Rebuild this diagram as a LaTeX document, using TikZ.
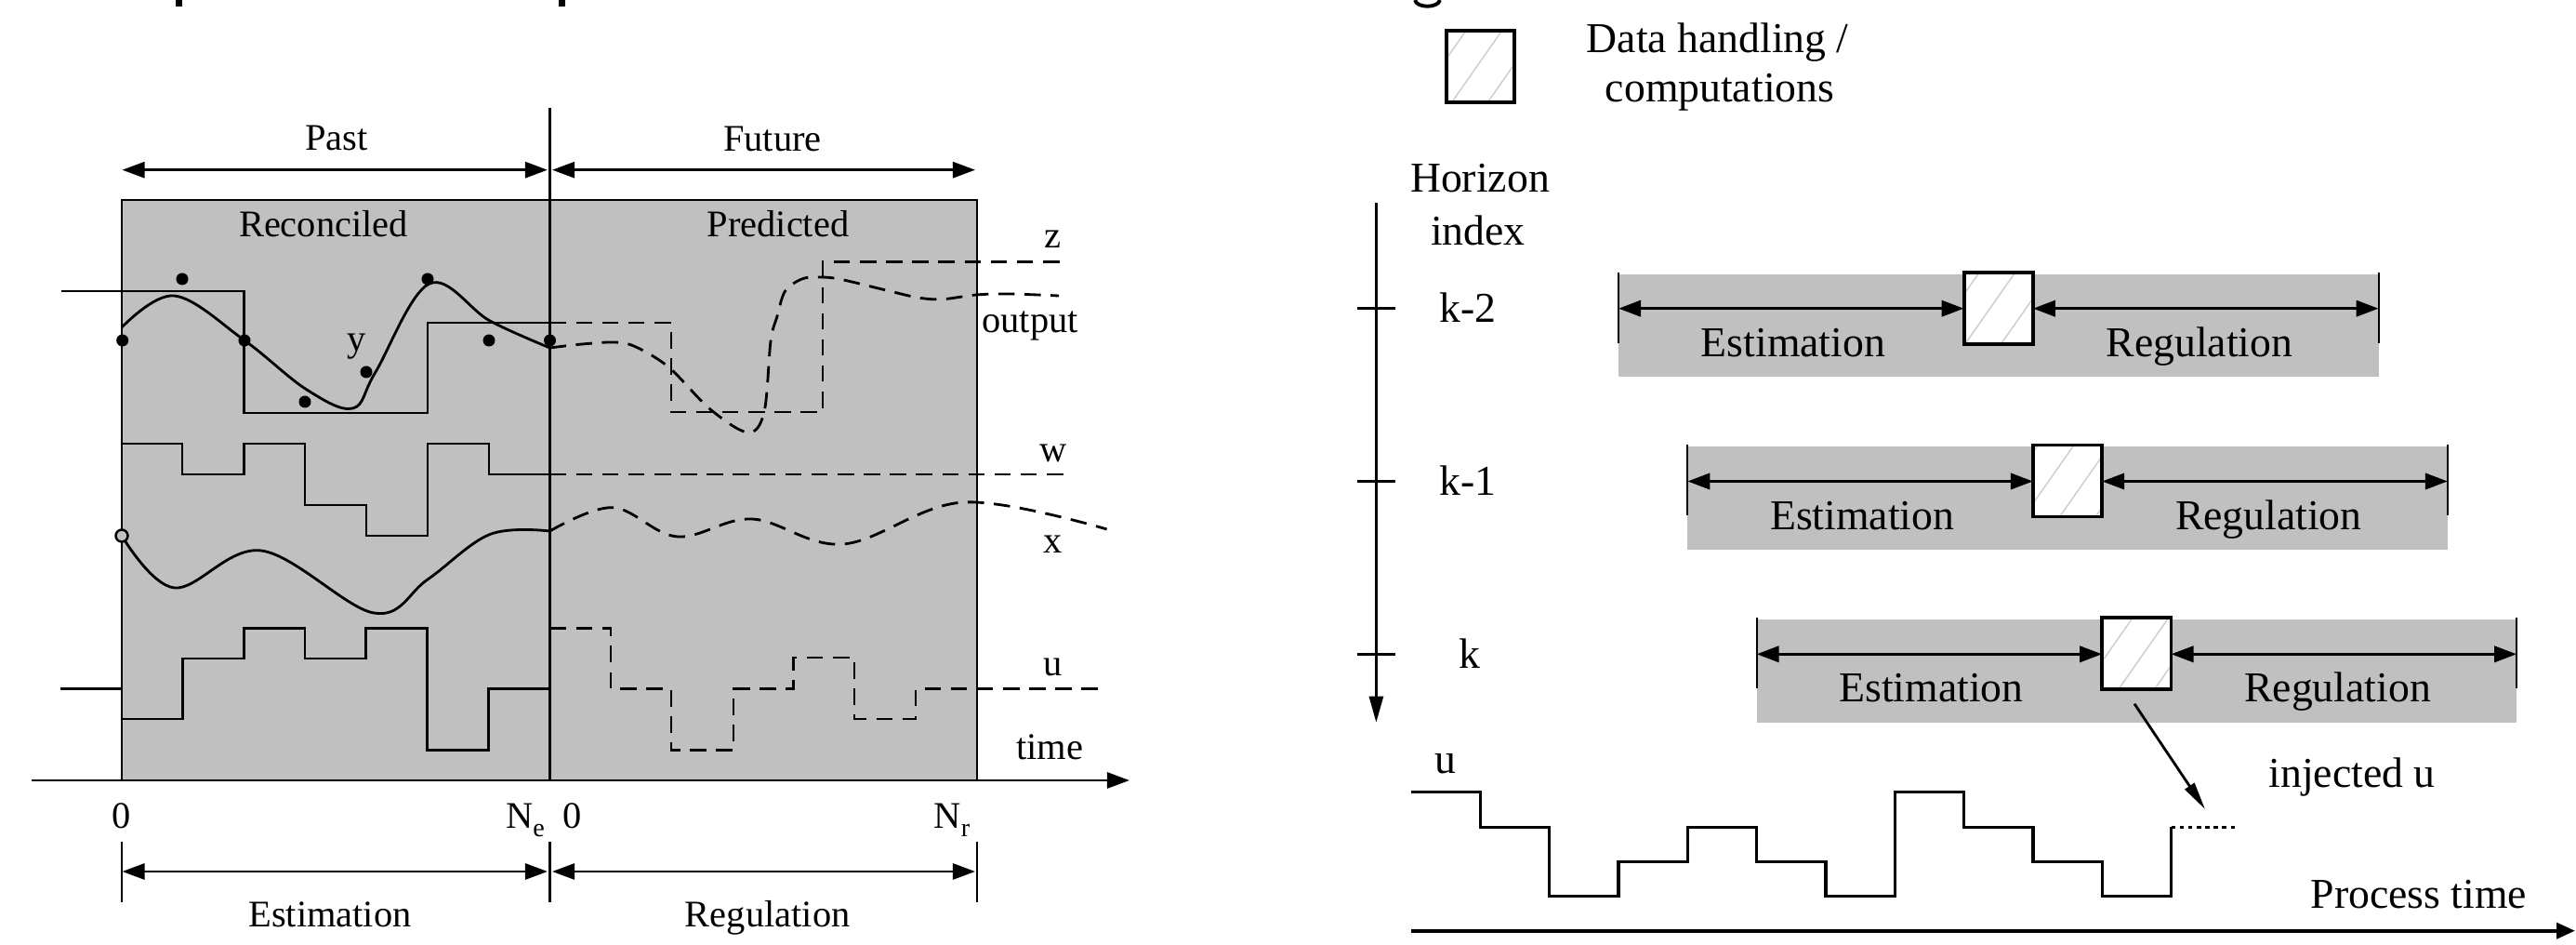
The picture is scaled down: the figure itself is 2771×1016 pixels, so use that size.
\documentclass[tikz,border=0pt]{standalone}
\usepackage{fontspec}
\setmainfont{Liberation Serif}
\usetikzlibrary{arrows.meta,patterns.meta}
\definecolor{bandgray}{RGB}{192,192,192}
\begin{document}
\begin{tikzpicture}[x=0.01cm,y=-0.01cm,
  >={Triangle[length=0.24cm,width=0.17cm]},
  lt/.style={font=\fontsize{11.5}{13}\selectfont,inner sep=0pt,anchor=base},
  rt/.style={font=\fontsize{13}{15}\selectfont,inner sep=0pt,anchor=base},
  ln/.style={line width=0.8pt},
  dsh/.style={line width=0.8pt,dash pattern=on 5pt off 3pt},
  rln/.style={line width=1pt},
  hatchbox/.style={draw,line width=1.1pt,preaction={fill=white},
    pattern={Lines[angle=55,distance=9pt,line width=0.4pt]},pattern color=black!20},
  endbar/.style={line width=0.6pt}]
\useasboundingbox (0,0) rectangle (2771,1016);
\fill[white] (0,0) rectangle (2771,1016);

% cut-off fragments at the top edge
\fill (188.5,0) rectangle (195.5,7);
\fill (600.5,0) rectangle (607.5,7);
\draw[line width=1.1pt] (1522,0) .. controls (1524,9) and (1547,9) .. (1549,0);

% ================= LEFT DIAGRAM =================
\fill[bandgray] (131,215) rectangle (1051,839);
\draw[ln] (131,215) rectangle (1051,839);
\coordinate (divtop) at (591.5,116);
\coordinate (divbot) at (591.5,839);
\draw[ln] (divtop) -- (divbot);

% top dimension arrows
\draw[ln,<->] (131.5,182.7) -- (589,182.7);
\draw[ln,<->] (594,182.7) -- (1049,182.7);
\node[lt] (past) at (362,161.7) {Past};
\node[lt] (future) at (831,163) {Future};
\node[lt] (recon) at (348,255) {Reconciled};
\node[lt] (pred) at (837,255) {Predicted};

% output (step, solid then dashed)
\draw[ln] (66,313) -- (262.5,313) -- (262.5,444) -- (460,444) -- (460,347) -- (591.5,347);
\draw[dsh] (591.5,347) -- (722,347) -- (722,443) -- (885,443) -- (885,281.7) -- (1146,281.7);
% output smooth curve
\draw[ln] plot[smooth,tension=0.6] coordinates {(131,352) (187.5,318) (263,366) (330,419) (379.5,439) (404,400) (462,305) (527,345) (591.5,374)};
\draw[dsh] plot[smooth,tension=0.55] coordinates {(591.5,374) (626,370) (661.6,368) (684,373) (719.6,395) (764,440) (804.5,465) (822,443) (829,367) (836,340) (844.6,313) (862.5,300) (880,298) (902.7,300) (951.8,311.7) (987.5,320) (1014,321.7) (1050,317) (1085.7,316) (1139,318)};
% measurements
\foreach \p in {(131.7,366),(196,300),(263,366),(328,432),(394,400),(460,300),(526,366),(591.5,366)}
  \fill \p circle[radius=0.065cm];
\node[lt] (ylab) at (384,378) {y};
\node[lt] (zlab) at (1132.6,266.7) {z};
\node[lt] (outlab) at (1108,358) {output};

% w
\draw[ln] (131,477) -- (196,477) -- (196,510) -- (262.5,510) -- (262.5,477) -- (328,477) -- (328,543) -- (394,543) -- (394,576) -- (460,576) -- (460,477) -- (526,477) -- (526,510) -- (591.5,510);
\draw[dsh] (591.5,510) -- (1150,510);
\node[lt] (wlab) at (1132.6,497) {w};

% x
\draw[ln] plot[smooth,tension=0.6] coordinates {(131,576) (187.5,632) (281,592) (402,659) (460,623) (527,574.5) (591.5,571)};
\draw[dsh] plot[smooth,tension=0.6] coordinates {(591.5,571) (659,545.7) (728.6,577) (809,558) (907,585) (1036.6,540) (1190.6,569)};
\draw[line width=0.7pt,fill=bandgray] (131,576) circle[radius=0.065cm];
\node[lt] (xlab) at (1132.6,594.4) {x};

% u
\draw[ln] (65,740.6) -- (131,740.6);
\draw[ln] (131,773) -- (196.4,773) -- (196.4,708) -- (262.5,708) -- (262.5,675.6) -- (328,675.6) -- (328,708) -- (393.8,708) -- (393.8,675.6) -- (459.8,675.6) -- (459.8,806.3) -- (525.9,806.3) -- (525.9,740.6) -- (591.5,740.6);
\draw[dsh] (591.5,675.6) -- (657,675.6) -- (657,740.6) -- (722,740.6) -- (722,806.3) -- (789,806.3) -- (789,740.6) -- (853.6,740.6) -- (853.6,707) -- (919,707) -- (919,773) -- (985,773) -- (985,740.6) -- (1184,740.6);
\node[lt] (ulab) at (1132.6,726.2) {u};

% time axis
\coordinate (tstart) at (33.5,839);
\coordinate (tend) at (1215,839);
\draw[ln,->] (tstart) -- (tend);
\node[lt] (timelab) at (1129,816.4) {time};
\node[lt] (zero1) at (131,890.4) {0};
\node[lt] (ne) at (565,890.4) {N\raisebox{-0.5ex}{\fontsize{8}{8}\selectfont e}};
\node[lt] (zero2) at (616,890.4) {0};
\node[lt] (nr) at (1024,890.4) {N\raisebox{-0.5ex}{\fontsize{8}{8}\selectfont r}};

% bottom dimension
\foreach \xx in {131,591.5,1051} \draw[ln] (\xx,905) -- (\xx,970);
\draw[ln,<->] (131.5,937) -- (589,937);
\draw[ln,<->] (594,937) -- (1049,937);
\node[lt] (estL) at (355,997) {Estimation};
\node[lt] (regL) at (825.7,997) {Regulation};

% ================= RIGHT DIAGRAM =================
\path[hatchbox] (1555.6,33) rectangle (1629,110);
\node[rt] (dh1) at (1847.7,57) {Data handling /};
\node[rt] (dh2) at (1850,110) {computations};

\node[rt] (hor) at (1592,206.7) {Horizon};
\node[rt] (idx) at (1590,263.3) {index};
\coordinate (iaxtop) at (1480.4,218);
\coordinate (iaxbot) at (1480.4,776.7);
\draw[ln,-{Triangle[length=0.28cm,width=0.15cm]}] (iaxtop) -- (iaxbot);
\foreach \yy in {331.7,517.5,703.3} \draw[ln] (1459.5,\yy) -- (1500.5,\yy);
\node[rt] (k2) at (1579,346.7) {k-2};
\node[rt] (k1) at (1579,532.5) {k-1};
\node[rt] (k0) at (1581,718.3) {k};

\foreach \j in {0,1,2}{
  \pgfmathsetmacro{\xa}{1741+74.3*\j}
  \pgfmathsetmacro{\xb}{2112.6+74.3*\j}
  \pgfmathsetmacro{\xc}{2186.9+74.3*\j}
  \pgfmathsetmacro{\xd}{2558.6+74.3*\j}
  \pgfmathsetmacro{\ya}{331.7+185.8*\j}
  \fill[bandgray] ({\xa},{\ya-37}) rectangle ({\xd},{\ya+73.5});
  \path[hatchbox] ({\xb},{\ya-39}) rectangle ({\xc},{\ya+38});
  \draw[endbar] ({\xa},{\ya-39}) -- ({\xa},{\ya+37});
  \draw[endbar] ({\xd},{\ya-39}) -- ({\xd},{\ya+37});
  \draw[rln,<->] ({\xa},{\ya}) -- ({\xb},{\ya});
  \draw[rln,<->] ({\xc},{\ya}) -- ({\xd},{\ya});
  \node[rt] (est\j) at ({1929+74.3*\j},{\ya+51.6}) {Estimation};
  \node[rt] (reg\j) at ({2366+74.3*\j},{\ya+51.6}) {Regulation};
}

% injected u
\coordinate (injfrom) at (2296,756.7);
\coordinate (injto) at (2372,870);
\draw[ln,-{Triangle[length=0.3cm,width=0.12cm]}] (injfrom) -- (injto);
\node[rt] (inj) at (2530,846.7) {injected u};

% process u
\node[rt] (pu) at (1555,831.7) {u};
\draw[rln] (1518,851.7) -- (1592.4,851.7) -- (1592.4,889.3) -- (1666.7,889.3) -- (1666.7,963.3) -- (1741,963.3) -- (1741,926.7) -- (1815.3,926.7) -- (1815.3,889.3) -- (1889.7,889.3) -- (1889.7,926.7) -- (1964,926.7) -- (1964,963.3) -- (2038.3,963.3) -- (2038.3,851.7) -- (2112.6,851.7) -- (2112.6,889.3) -- (2187,889.3) -- (2187,926.7) -- (2261.3,926.7) -- (2261.3,963.3) -- (2335.6,963.3) -- (2335.6,889.3);
\draw[line width=0.8pt,dash pattern=on 1.3pt off 1.3pt] (2335.6,889.3) -- (2405.6,889.3);

\coordinate (pstart) at (1518,1000.7);
\coordinate (pend) at (2770,1000.7);
\draw[line width=1.1pt,-{Triangle[length=0.2cm,width=0.17cm]}] (pstart) -- (pend);
\node[rt] (ptime) at (2602,976.7) {Process time};
\end{tikzpicture}
\end{document}
